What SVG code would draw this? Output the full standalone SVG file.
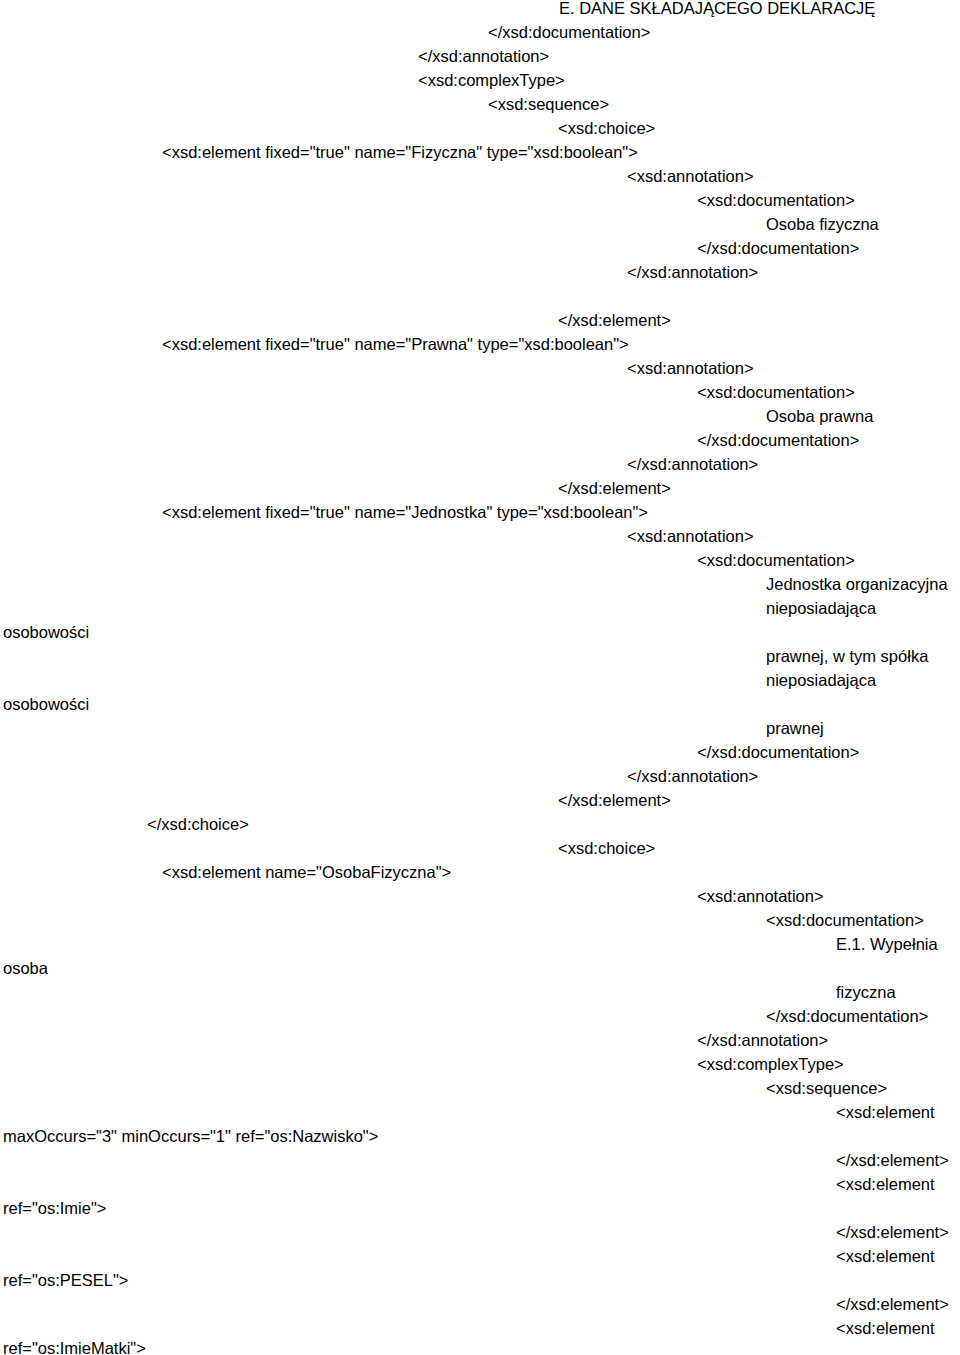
<svg xmlns="http://www.w3.org/2000/svg" width="960" height="1355" viewBox="0 0 960 1355">
<style>text{font-family:"Liberation Sans",Arial,sans-serif;font-size:16.5px;fill:#000}</style>
<rect width="960" height="1355" fill="#fff"/>
<g id="content">
<text x="559" y="14">E. DANE SKŁADAJĄCEGO DEKLARACJĘ</text>
<text x="488" y="38">&lt;/xsd:documentation&gt;</text>
<text x="418" y="62">&lt;/xsd:annotation&gt;</text>
<text x="418" y="86">&lt;xsd:complexType&gt;</text>
<text x="488" y="110">&lt;xsd:sequence&gt;</text>
<text x="558" y="134">&lt;xsd:choice&gt;</text>
<text x="162" y="158">&lt;xsd:element fixed="true" name="Fizyczna" type="xsd:boolean"&gt;</text>
<text x="627" y="182">&lt;xsd:annotation&gt;</text>
<text x="697" y="206">&lt;xsd:documentation&gt;</text>
<text x="766" y="230">Osoba fizyczna</text>
<text x="697" y="254">&lt;/xsd:documentation&gt;</text>
<text x="627" y="278">&lt;/xsd:annotation&gt;</text>
<text x="558" y="326">&lt;/xsd:element&gt;</text>
<text x="162" y="350">&lt;xsd:element fixed="true" name="Prawna" type="xsd:boolean"&gt;</text>
<text x="627" y="374">&lt;xsd:annotation&gt;</text>
<text x="697" y="398">&lt;xsd:documentation&gt;</text>
<text x="766" y="422">Osoba prawna</text>
<text x="697" y="446">&lt;/xsd:documentation&gt;</text>
<text x="627" y="470">&lt;/xsd:annotation&gt;</text>
<text x="558" y="494">&lt;/xsd:element&gt;</text>
<text x="162" y="518">&lt;xsd:element fixed="true" name="Jednostka" type="xsd:boolean"&gt;</text>
<text x="627" y="542">&lt;xsd:annotation&gt;</text>
<text x="697" y="566">&lt;xsd:documentation&gt;</text>
<text x="766" y="590">Jednostka organizacyjna</text>
<text x="766" y="614">nieposiadająca</text>
<text x="3" y="638">osobowości</text>
<text x="766" y="662">prawnej, w tym spółka</text>
<text x="766" y="686">nieposiadająca</text>
<text x="3" y="710">osobowości</text>
<text x="766" y="734">prawnej</text>
<text x="697" y="758">&lt;/xsd:documentation&gt;</text>
<text x="627" y="782">&lt;/xsd:annotation&gt;</text>
<text x="558" y="806">&lt;/xsd:element&gt;</text>
<text x="147" y="830">&lt;/xsd:choice&gt;</text>
<text x="558" y="854">&lt;xsd:choice&gt;</text>
<text x="162" y="878">&lt;xsd:element name="OsobaFizyczna"&gt;</text>
<text x="697" y="902">&lt;xsd:annotation&gt;</text>
<text x="766" y="926">&lt;xsd:documentation&gt;</text>
<text x="836" y="950">E.1. Wypełnia</text>
<text x="3" y="974">osoba</text>
<text x="836" y="998">fizyczna</text>
<text x="766" y="1022">&lt;/xsd:documentation&gt;</text>
<text x="697" y="1046">&lt;/xsd:annotation&gt;</text>
<text x="697" y="1070">&lt;xsd:complexType&gt;</text>
<text x="766" y="1094">&lt;xsd:sequence&gt;</text>
<text x="836" y="1118">&lt;xsd:element</text>
<text x="3" y="1142">maxOccurs="3" minOccurs="1" ref="os:Nazwisko"&gt;</text>
<text x="836" y="1166">&lt;/xsd:element&gt;</text>
<text x="836" y="1190">&lt;xsd:element</text>
<text x="3" y="1214">ref="os:Imie"&gt;</text>
<text x="836" y="1238">&lt;/xsd:element&gt;</text>
<text x="836" y="1262">&lt;xsd:element</text>
<text x="3" y="1286">ref="os:PESEL"&gt;</text>
<text x="836" y="1310">&lt;/xsd:element&gt;</text>
<text x="836" y="1334">&lt;xsd:element</text>
<text x="3" y="1354">ref="os:ImieMatki"&gt;</text>
</g>
</svg>
